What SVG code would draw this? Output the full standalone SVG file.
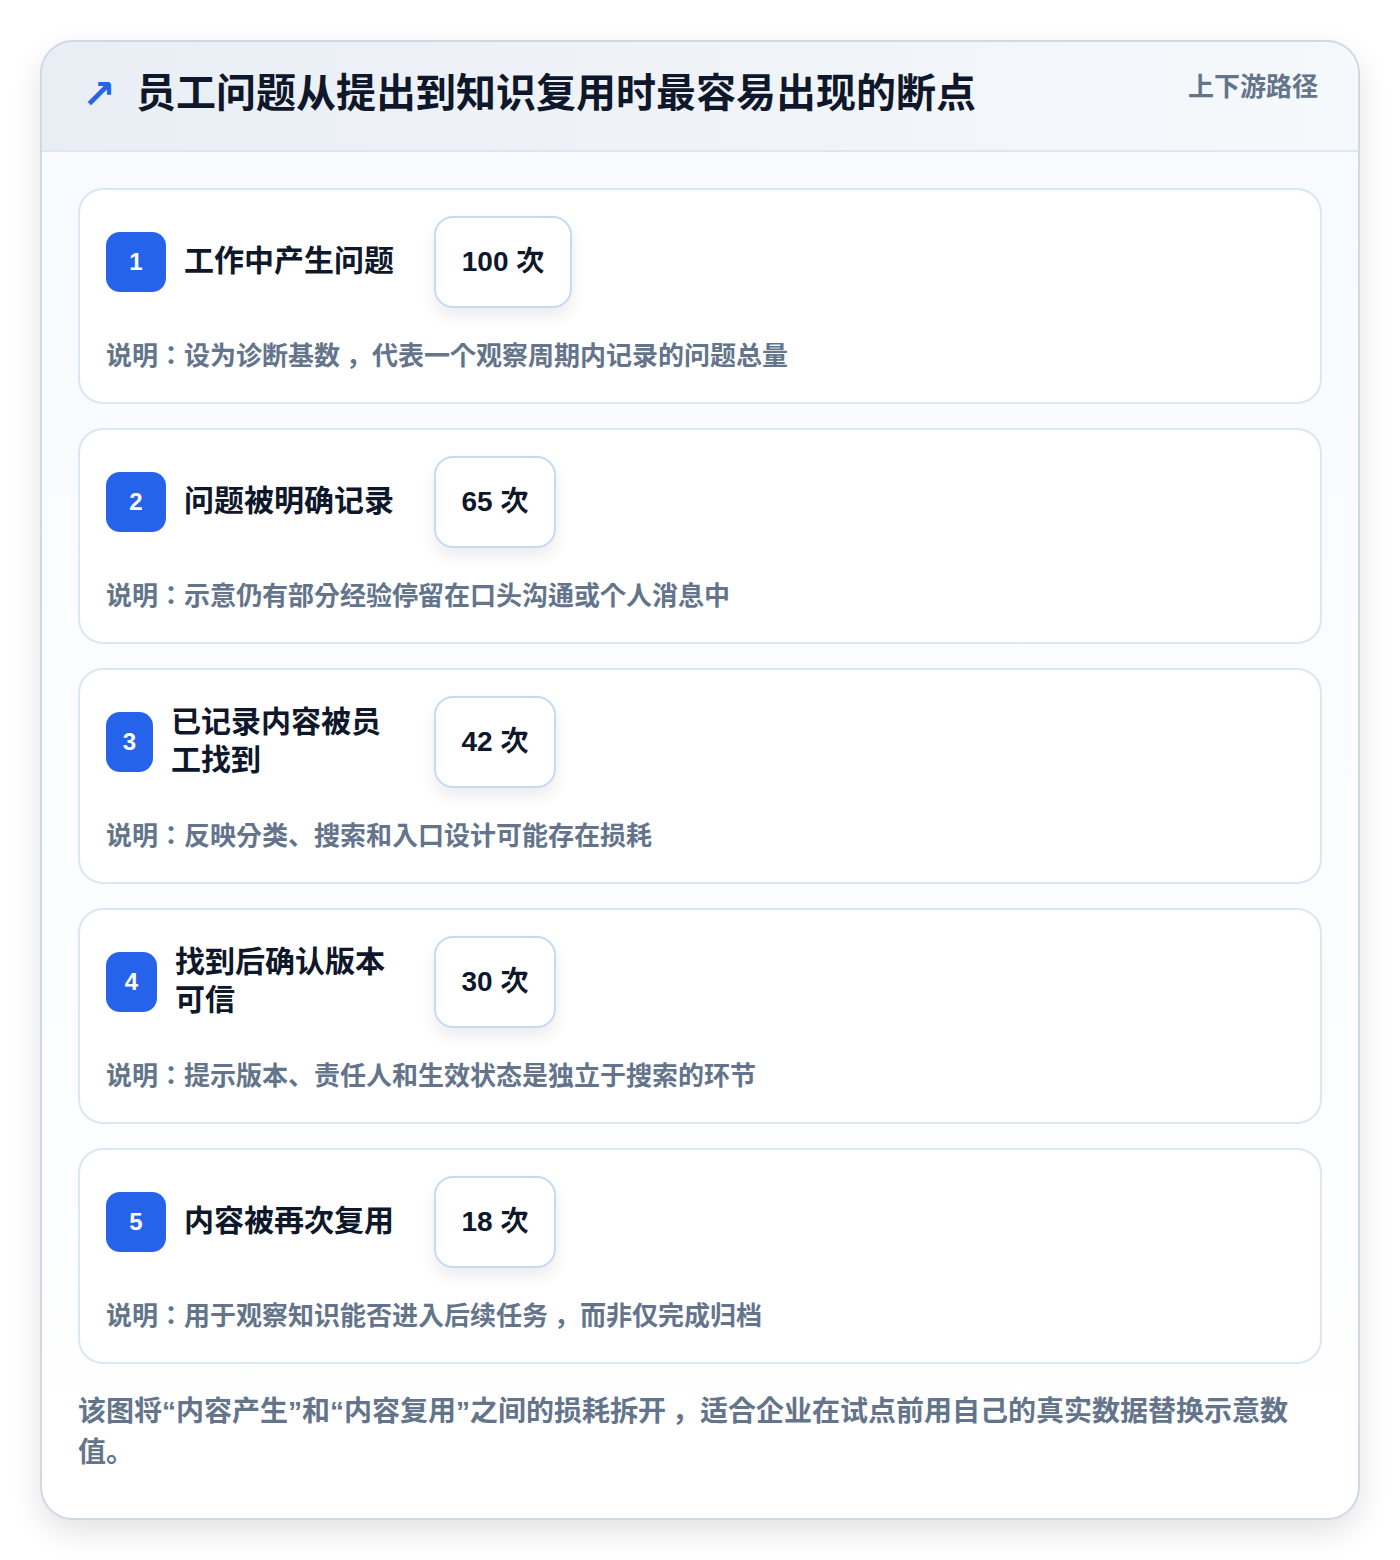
<svg xmlns="http://www.w3.org/2000/svg" width="1400" height="1560" viewBox="0 0 1400 1560">
<defs>
<linearGradient id="hdr" x1="0" y1="0" x2="1" y2="0">
<stop offset="0" stop-color="#e9eef5"/>
<stop offset="1" stop-color="#f6f9fc"/>
</linearGradient>
<linearGradient id="body" x1="0" y1="0" x2="0" y2="1">
<stop offset="0" stop-color="#f7faff"/>
<stop offset="1" stop-color="#ffffff"/>
</linearGradient>
<filter id="outerShadow" x="-10%" y="-10%" width="120%" height="120%">
<feGaussianBlur in="SourceAlpha" stdDeviation="16"/>
<feOffset dy="12"/>
<feComponentTransfer><feFuncA type="linear" slope="0.12"/></feComponentTransfer>
<feMerge><feMergeNode/><feMergeNode in="SourceGraphic"/></feMerge>
</filter>
<filter id="boxShadow" x="-30%" y="-30%" width="160%" height="180%">
<feGaussianBlur in="SourceAlpha" stdDeviation="8"/>
<feOffset dy="8"/>
<feComponentTransfer><feFuncA type="linear" slope="0.08"/></feComponentTransfer>
<feMerge><feMergeNode/><feMergeNode in="SourceGraphic"/></feMerge>
</filter>
<clipPath id="outerClip"><rect x="41" y="41" width="1318" height="1478" rx="32"/></clipPath>
</defs>
<style>
text{font-family:"Liberation Sans","Noto Sans CJK KR",sans-serif}
.card{fill:#ffffff;stroke:#dbe7f5;stroke-width:2}
.badge{fill:#2563eb}
.bnum{fill:#ffffff;font-size:24px;font-weight:700;text-anchor:middle}
.ttl{fill:#0f172a;font-size:30px;font-weight:600}
.vbox{fill:#ffffff;stroke:#c3dbf5;stroke-width:2}
.val{fill:#0f172a;font-size:28px;font-weight:700;text-anchor:middle}
.desc{fill:#64748b;font-size:26px;font-weight:600}
.foot{fill:#64748b;font-size:28px;font-weight:600}
</style>
<rect x="0" y="0" width="1400" height="1560" fill="#ffffff"/>
<g id="frame">
<rect x="41" y="41" width="1318" height="1478" rx="32" fill="url(#body)" filter="url(#outerShadow)"/>
<g clip-path="url(#outerClip)">
<rect x="41" y="41" width="1318" height="110" fill="url(#hdr)"/>
<line x1="41" y1="151" x2="1359" y2="151" stroke="#dbe7f5" stroke-width="2"/>
</g>
<rect x="41" y="41" width="1318" height="1478" rx="32" fill="none" stroke="#cfd9e6" stroke-width="2"/>
</g>
<g id="header">
<text x="82" y="108" font-size="40" font-weight="700" fill="#2563eb" style="font-family:'DejaVu Sans',sans-serif">↗</text>
<text x="136" y="107" fill="#0f172a" font-size="40" font-weight="700">员工问题从提出到知识复用时最容易出现的断点</text>
<text x="1318" y="96" fill="#64748b" font-size="26" font-weight="600" text-anchor="end">上下游路径</text>
</g>
<g id="connectors"></g>
<g id="step1">
<rect class="card" x="79" y="189" width="1242" height="214" rx="24"/>
<rect class="badge" x="106" y="232" width="60" height="60" rx="14"/>
<text class="bnum" x="136" y="270">1</text>
<text class="ttl" x="184" y="271">工作中产生问题</text>
<rect class="vbox" x="435" y="217" width="136" height="90" rx="18" filter="url(#boxShadow)"/>
<text class="val" x="503" y="271">100 次</text>
<text class="desc" x="106" y="365">说明：设为诊断基数<tspan dx="6">，代表一个观察周期内记录的问题总量</tspan></text>
</g>
<g id="step2">
<rect class="card" x="79" y="429" width="1242" height="214" rx="24"/>
<rect class="badge" x="106" y="472" width="60" height="60" rx="14"/>
<text class="bnum" x="136" y="510">2</text>
<text class="ttl" x="184" y="511">问题被明确记录</text>
<rect class="vbox" x="435" y="457" width="120" height="90" rx="18" filter="url(#boxShadow)"/>
<text class="val" x="495" y="511">65 次</text>
<text class="desc" x="106" y="605">说明：示意仍有部分经验停留在口头沟通或个人消息中</text>
</g>
<g id="step3">
<rect class="card" x="79" y="669" width="1242" height="214" rx="24"/>
<rect class="badge" x="106" y="712" width="47" height="60" rx="14"/>
<text class="bnum" x="129.5" y="750">3</text>
<text class="ttl" x="171" y="732">已记录内容被员</text>
<text class="ttl" x="171" y="770">工找到</text>
<rect class="vbox" x="435" y="697" width="120" height="90" rx="18" filter="url(#boxShadow)"/>
<text class="val" x="495" y="751">42 次</text>
<text class="desc" x="106" y="845">说明：反映分类、搜索和入口设计可能存在损耗</text>
</g>
<g id="step4">
<rect class="card" x="79" y="909" width="1242" height="214" rx="24"/>
<rect class="badge" x="106" y="952" width="51" height="60" rx="14"/>
<text class="bnum" x="131.5" y="990">4</text>
<text class="ttl" x="175" y="972">找到后确认版本</text>
<text class="ttl" x="175" y="1010">可信</text>
<rect class="vbox" x="435" y="937" width="120" height="90" rx="18" filter="url(#boxShadow)"/>
<text class="val" x="495" y="991">30 次</text>
<text class="desc" x="106" y="1085">说明：提示版本、责任人和生效状态是独立于搜索的环节</text>
</g>
<g id="step5">
<rect class="card" x="79" y="1149" width="1242" height="214" rx="24"/>
<rect class="badge" x="106" y="1192" width="60" height="60" rx="14"/>
<text class="bnum" x="136" y="1230">5</text>
<text class="ttl" x="184" y="1231">内容被再次复用</text>
<rect class="vbox" x="435" y="1177" width="120" height="90" rx="18" filter="url(#boxShadow)"/>
<text class="val" x="495" y="1231">18 次</text>
<text class="desc" x="106" y="1325">说明：用于观察知识能否进入后续任务<tspan dx="6">，而非仅完成归档</tspan></text>
</g>
<g id="footer">
<text class="foot" x="78" y="1421">该图将“内容产生”和“内容复用”之间的损耗拆开<tspan dx="6">，适合企业在试点前用自己的真实数据替换示意数</tspan></text>
<text class="foot" x="78" y="1462">值。</text>
</g>
</svg>
